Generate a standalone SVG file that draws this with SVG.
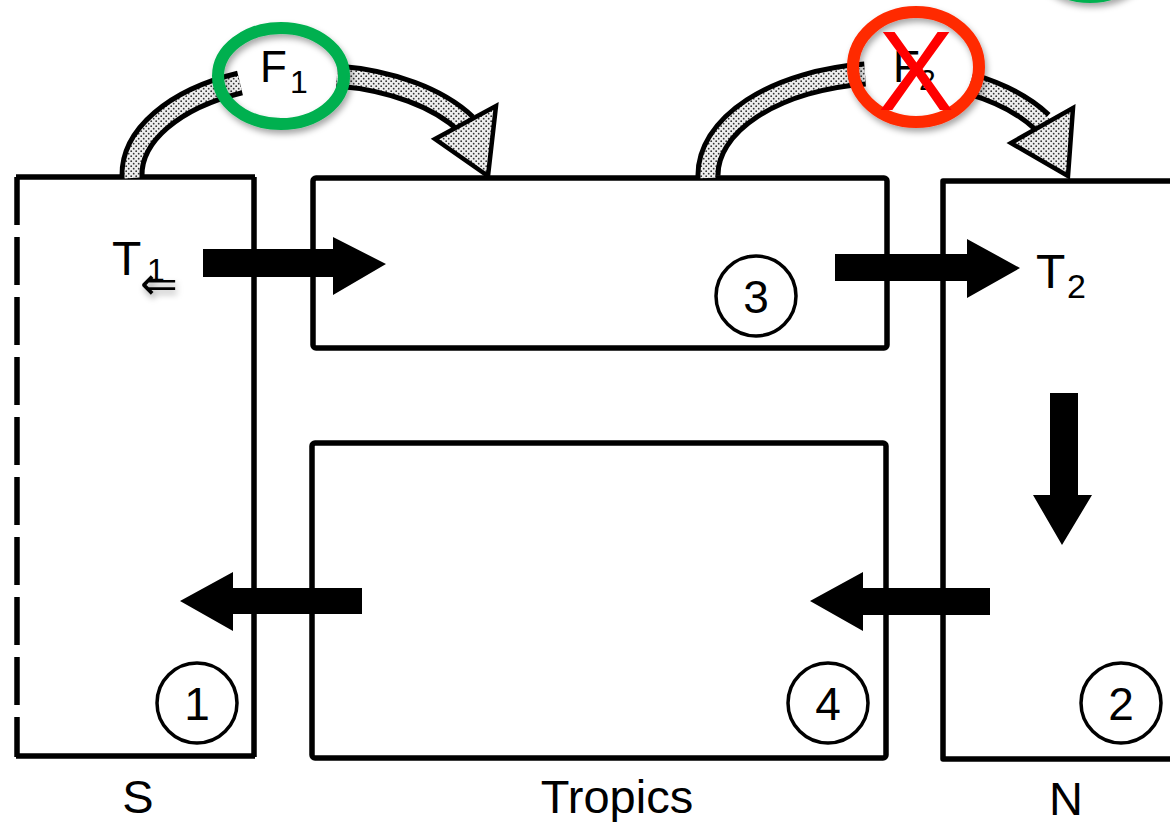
<svg xmlns="http://www.w3.org/2000/svg" width="1170" height="822" viewBox="0 0 1170 822">
<defs>
  <pattern id="dots" width="5" height="5" patternUnits="userSpaceOnUse">
    <rect width="5" height="5" fill="#eeeeee"/>
    <circle cx="1.2" cy="1.2" r="0.9" fill="#333"/>
    <circle cx="3.7" cy="3.7" r="0.9" fill="#333"/>
  </pattern>
  <filter id="shadow" x="-30%" y="-30%" width="160%" height="160%">
    <feDropShadow dx="2" dy="4" stdDeviation="3" flood-color="#000" flood-opacity="0.35"/>
  </filter>
</defs>
<style>
  .box { fill: none; stroke: #000; stroke-width: 5.5; stroke-linejoin: round; }
  .num { fill: none; stroke: #000; stroke-width: 3.5; }
  .numt { font-family: "Liberation Sans", Arial, sans-serif; font-size: 46px; text-anchor: middle; fill: #000; }
  .lbl { font-family: "Liberation Sans", Arial, sans-serif; font-size: 47px; fill: #000; }
  .arrow { fill: #000; }
  .bandout { fill: none; stroke: #000; stroke-width: 25; }
  .bandin { fill: none; stroke: url(#dots); stroke-width: 15; }
  .head { fill: url(#dots); stroke: #000; stroke-width: 4.5; stroke-linejoin: miter; }
</style>
<rect width="1170" height="822" fill="#fff"/>

<g id="box-S">
  <path class="box" d="M16,177 H255 M254,177 V757 M16,756 H255"/>
  <line x1="17" y1="757" x2="17" y2="177" stroke="#000" stroke-width="5.5" stroke-dasharray="48 12" stroke-dashoffset="8"/>
  <circle class="num" cx="197" cy="703" r="40"/>
  <text class="numt" x="197" y="720">1</text>
  <text class="lbl" x="138" y="813" text-anchor="middle">S</text>
</g>

<g id="box-3">
  <rect class="box" x="313" y="178" width="574" height="170" rx="3"/>
  <circle class="num" cx="756" cy="296" r="40"/>
  <text class="numt" x="756" y="313">3</text>
</g>

<g id="box-4">
  <rect class="box" x="312" y="443" width="574" height="315" rx="3"/>
  <circle class="num" cx="828" cy="703" r="40"/>
  <text class="numt" x="828" y="720">4</text>
  <text class="lbl" x="617" y="813" text-anchor="middle">Tropics</text>
</g>

<g id="box-N">
  <path class="box" d="M1172,181 H943 V759 H1172"/>
  <circle class="num" cx="1121" cy="703" r="40"/>
  <text class="numt" x="1121" y="720">2</text>
  <text class="lbl" x="1066" y="815" text-anchor="middle">N</text>
</g>

<g id="connectors">
  <!-- T1 transport -->
  <polygon class="arrow" points="203,249 333,249 333,237 386,264 333,295 333,277 203,277"/>
  <!-- T2 transport -->
  <polygon class="arrow" points="835,254 967,254 967,239 1020,268 967,298 967,281 835,281"/>
  <!-- return flows -->
  <polygon class="arrow" points="362,588 233,588 233,572 180,601 233,631 233,614 362,614"/>
  <polygon class="arrow" points="990,588 863,588 863,572 810,601 863,631 863,615 990,615"/>
  <polygon class="arrow" points="1050,393 1078,393 1078,495 1092,495 1062,545 1033,495 1050,495"/>
  <!-- F1 flux -->
  <path class="bandout" d="M132,176 A178,100 0 0,1 240,83"/>
  <path class="bandin" d="M132,178 A178,100 0 0,1 240,83"/>
  <path class="bandout" d="M337,76 A178,100 0 0,1 466,124"/>
  <path class="bandin" d="M337,76 A178,100 0 0,1 468,126"/>
  <polygon class="head" points="496,106 488,176 435,139"/>
  <!-- F2 flux -->
  <path class="bandout" d="M708,176 A180,102 0 0,1 865,74"/>
  <path class="bandin" d="M708,178 A180,102 0 0,1 865,74"/>
  <path class="bandout" d="M970,84 A180,102 0 0,1 1042,122"/>
  <path class="bandin" d="M970,84 A180,102 0 0,1 1044,124"/>
  <polygon class="head" points="1073,108 1068,176 1011,143"/>
</g>

<g id="labels">
  <text class="lbl" x="112" y="275" style="font-size:48px">T</text>
  <text class="lbl" x="147" y="281" style="font-size:32px">1</text>
  <text x="140" y="299" font-family="DejaVu Sans, sans-serif" font-size="45" fill="#000" filter="url(#shadow)">⇐</text>
  <text class="lbl" x="1036" y="288" style="font-size:48px">T</text>
  <text class="lbl" x="1067" y="298" style="font-size:34px">2</text>
  <text class="lbl" x="260" y="82" style="font-size:44px">F</text>
  <text class="lbl" x="290" y="93" style="font-size:32px">1</text>
  <text class="lbl" x="893" y="82" style="font-size:44px">F</text>
  <text class="lbl" x="919" y="90" style="font-size:30px">2</text>
</g>

<g id="annotation-F1">
  <ellipse cx="281" cy="76" rx="63" ry="48" fill="none" stroke="#00b050" stroke-width="12" filter="url(#shadow)"/>
</g>
<g id="annotation-F2">
  <ellipse cx="916" cy="67" rx="63" ry="55" fill="none" stroke="#ff2a00" stroke-width="12" filter="url(#shadow)"/>
  <text x="916" y="110" font-family="Liberation Sans, Arial, sans-serif" font-size="114" fill="#ff0000" text-anchor="middle">X</text>
</g>
<g id="annotation-top-right">
  <ellipse cx="1090" cy="-58" rx="63" ry="55" fill="none" stroke="#00b050" stroke-width="12" filter="url(#shadow)"/>
</g>
</svg>
